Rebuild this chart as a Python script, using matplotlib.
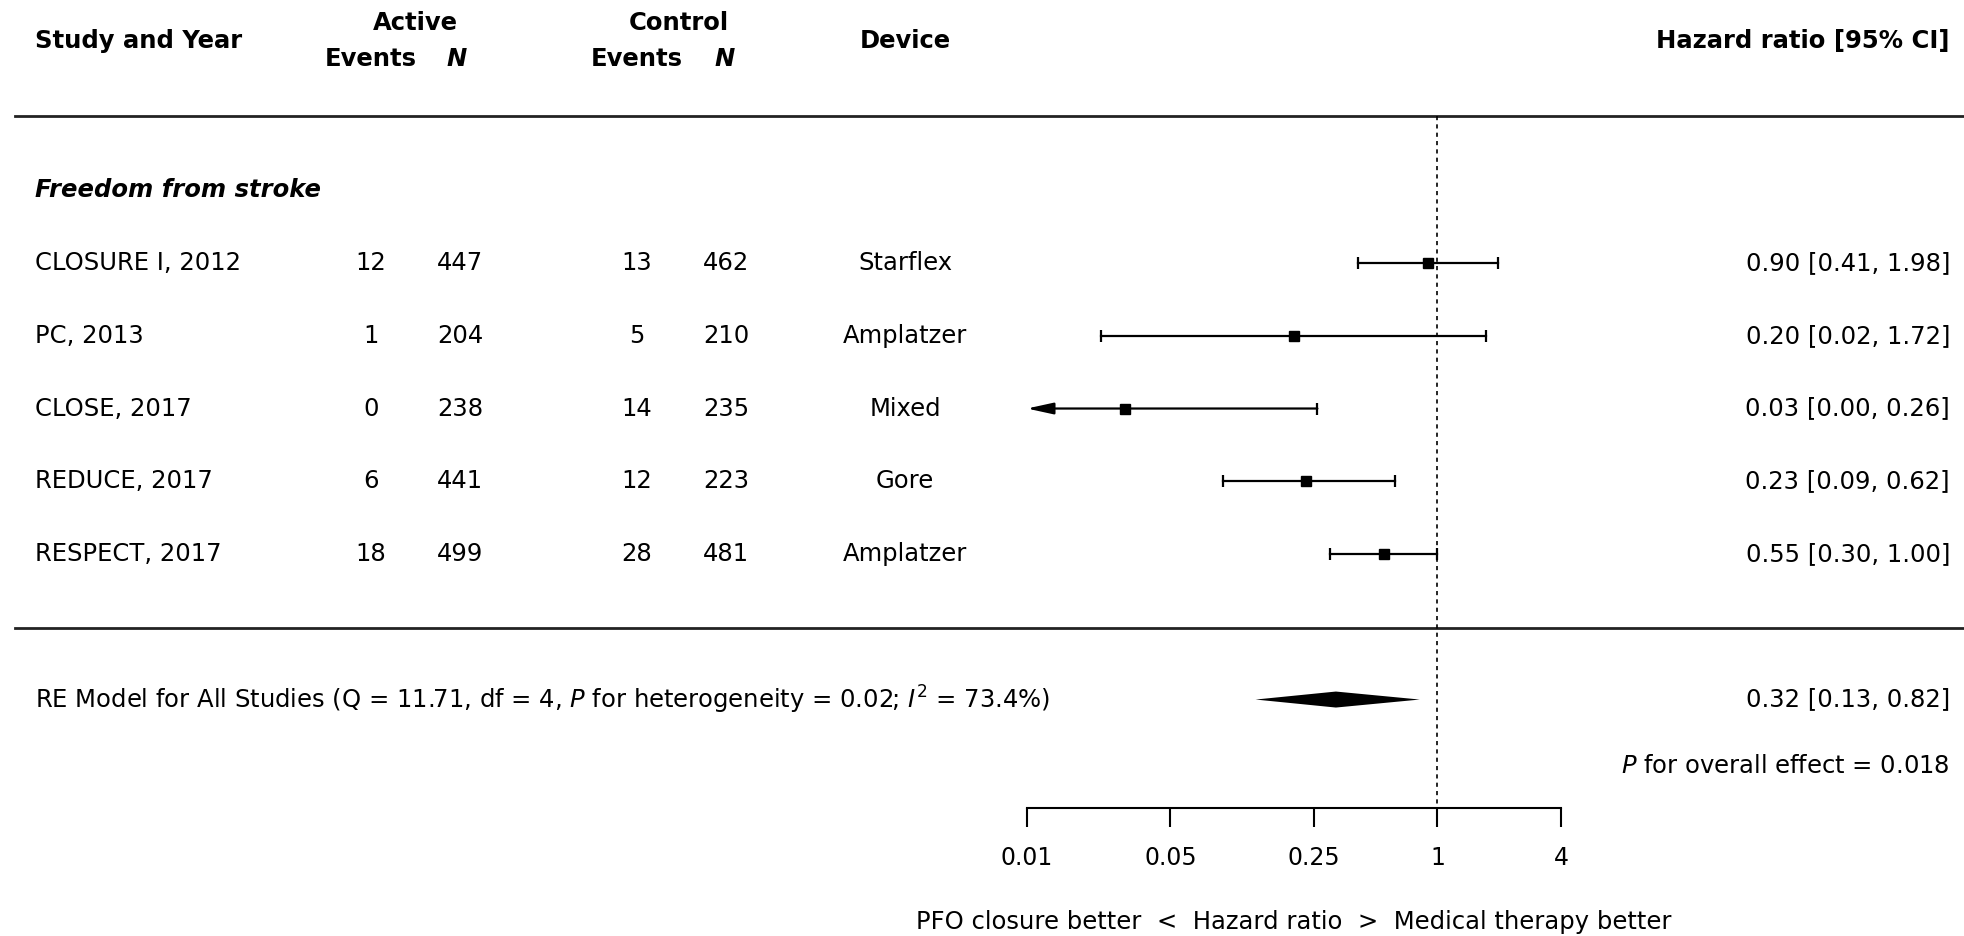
import numpy as np
import matplotlib
matplotlib.use('Agg')
import matplotlib.pyplot as plt
from matplotlib.transforms import blended_transform_factory
from matplotlib.ticker import NullLocator

plt.rcParams['font.family'] = 'DejaVu Sans'
plt.rcParams['mathtext.fontset'] = 'dejavusans'

# datos del forest plot
studies = ['CLOSURE I, 2012', 'PC, 2013', 'CLOSE, 2017', 'REDUCE, 2017', 'RESPECT, 2017']
act_events = [12, 1, 0, 6, 18]
act_n = [447, 204, 238, 441, 499]
ctl_events = [13, 5, 14, 12, 28]
ctl_n = [462, 210, 235, 223, 481]
devices = ['Starflex', 'Amplatzer', 'Mixed', 'Gore', 'Amplatzer']
hr = [0.90, 0.20, 0.03, 0.23, 0.55]
ci_lo = [0.41, 0.023, 0.00, 0.09, 0.30]
ci_hi = [1.98, 1.72, 0.26, 0.62, 1.00]
re_hr, re_lo, re_hi = 0.32, 0.13, 0.82
ticks = [0.01, 0.05, 0.25, 1, 4]
tick_labels = ['0.01', '0.05', '0.25', '1', '4']

W, H = 1964, 936
fig = plt.figure(figsize=(W / 100, H / 100), dpi=100)

# eje del forest (escala log), 0.01 -> px 1027, 4 -> px 1561
ax = fig.add_axes([1027 / W, 0, 534 / W, 1])
ax.set_xscale('log')
ax.set_xlim(ticks[0], ticks[-1])
ax.set_ylim(10.25, -2.615)
ax.patch.set_alpha(0)
for s in ['top', 'left', 'right']:
    ax.spines[s].set_visible(False)
ax.spines['bottom'].set_position(('data', 8.49))
ax.spines['bottom'].set_bounds(ticks[0], ticks[-1])
ax.spines['bottom'].set_linewidth(1.5)
ax.set_yticks([])
ax.set_xticks(ticks)
ax.set_xticklabels(tick_labels)
ax.xaxis.set_minor_locator(NullLocator())
ax.tick_params(axis='x', direction='out', length=13.5, width=1.5, pad=14, labelsize=17)

fs = 17.5
tr = blended_transform_factory(fig.transFigure, ax.transData)

def txt(xpx, y, s, ha='left', **kw):
    ax.text(xpx / W, y, s, transform=tr, ha=ha, va='center', fontsize=fs, **kw)

# cabecera
txt(35, -2.05, 'Study and Year', weight='bold')
txt(415, -2.30, 'Active', ha='center', weight='bold')
txt(371, -1.80, 'Events', ha='center', weight='bold')
txt(457, -1.80, 'N', ha='center', weight='bold', style='italic')
txt(679, -2.30, 'Control', ha='center', weight='bold')
txt(637, -1.80, 'Events', ha='center', weight='bold')
txt(725, -1.80, 'N', ha='center', weight='bold', style='italic')
txt(905, -2.05, 'Device', ha='center', weight='bold')
txt(1950, -2.05, 'Hazard ratio [95% CI]', ha='right', weight='bold')

# lineas horizontales
for yy in [-1.02, 6.02]:
    ax.plot([15 / W, 1], [yy, yy], transform=tr, color='#222222', lw=2.0, clip_on=False)

txt(35, 0, 'Freedom from stroke', weight='bold', style='italic')

ys = np.arange(1, len(studies) + 1)
for i, y in enumerate(ys):
    txt(35, y, studies[i])
    txt(371, y, str(act_events[i]), ha='center')
    txt(460, y, str(act_n[i]), ha='center')
    txt(637, y, str(ctl_events[i]), ha='center')
    txt(726, y, str(ctl_n[i]), ha='center')
    txt(905, y, devices[i], ha='center')
    txt(1950, y, '%.2f [%.2f, %.2f]' % (hr[i], ci_lo[i], ci_hi[i]), ha='right')

    lo = ci_lo[i]
    if lo < ticks[0]:
        ax.annotate('', xy=(ticks[0], y), xytext=(ci_hi[i], y),
                    arrowprops=dict(arrowstyle='-|>,head_length=1.6,head_width=0.35',
                                    color='black', lw=1.6, shrinkA=0, shrinkB=0))
        ax.plot([ci_hi[i]], [y], marker='|', color='black', markersize=8.6, mew=1.6, clip_on=False)
    else:
        ax.plot([lo, ci_hi[i]], [y, y], color='black', lw=1.6, clip_on=False)
        ax.plot([lo, ci_hi[i]], [y, y], ls='none', marker='|', color='black',
                markersize=8.6, mew=1.6, clip_on=False)
    ax.plot([hr[i]], [y], marker='s', color='black', markersize=7.6, clip_on=False)

# linea de referencia en HR = 1
ax.vlines(1, -1.02, 8.49, colors='black', linestyles=(0, (2.5, 2.5)), lw=1.2)

# modelo RE
ax.fill([re_lo, re_hr, re_hi, re_hr], [7, 6.89, 7, 7.11], color='black', lw=0)
txt(35, 7, 'RE Model for All Studies (Q = 11.71, df = 4, $P$ for heterogeneity = 0.02; $I^2$ = 73.4%)')
txt(1950, 7, '%.2f [%.2f, %.2f]' % (re_hr, re_lo, re_hi), ha='right')
txt(1950, 7.91, '$P$ for overall effect = 0.018', ha='right')

ax.text(0.5, 10.06, 'PFO closure better  <  Hazard ratio  >  Medical therapy better',
        transform=blended_transform_factory(ax.transAxes, ax.transData),
        ha='center', va='center', fontsize=fs)

fig.savefig('out.png', dpi=100)
